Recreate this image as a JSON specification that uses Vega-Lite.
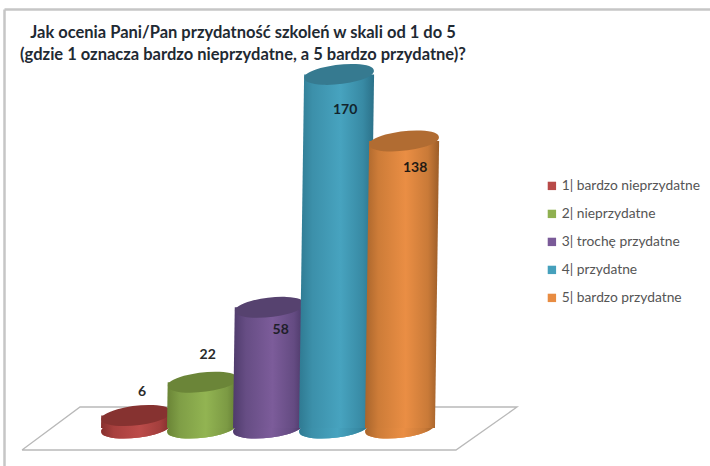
{
  "$schema": "https://vega.github.io/schema/vega-lite/v6.json",
  "width": 706,
  "height": 457,
  "padding": {"left": 4, "top": 9, "right": 0, "bottom": 0},
  "autosize": "none",
  "background": "#ffffff",
  "view": {"stroke": null},
  "config": {"font": "Lato", "style": {"cell": {"stroke": null}}},
  "title": {
    "text": ["Jak ocenia Pani/Pan przydatność szkoleń w skali od 1 do 5", "(gdzie 1 oznacza bardzo nieprzydatne, a 5 bardzo przydatne)?"],
    "anchor": "start",
    "frame": "group",
    "align": "center",
    "baseline": "top",
    "dx": 239,
    "dy": 54,
    "offset": 0,
    "font": "Lato",
    "fontSize": 16.5,
    "fontWeight": 700,
    "lineHeight": 22,
    "color": "#1f2a33"
  },
  "data": {
    "values": [
      {"ocena": 1, "etykieta": "1| bardzo nieprzydatne", "wartosc": 6},
      {"ocena": 2, "etykieta": "2| nieprzydatne", "wartosc": 22},
      {"ocena": 3, "etykieta": "3| trochę przydatne", "wartosc": 58},
      {"ocena": 4, "etykieta": "4| przydatne", "wartosc": 170},
      {"ocena": 5, "etykieta": "5| bardzo przydatne", "wartosc": 138}
    ]
  },
  "transform": [
    {"calculate": "[0, datum.wartosc]", "as": "poziomy"},
    {"flatten": ["poziomy"], "as": ["level"]},
    {"calculate": "datum.ocena + 0.000455 * datum.level", "as": "xPos"}
  ],
  "encoding": {
    "x": {
      "field": "xPos",
      "type": "quantitative",
      "scale": {"domain": [-1, 9.697], "nice": false, "zero": false},
      "axis": {"orient": "top", "title": null, "labels": false, "ticks": false, "grid": false, "domain": true, "domainColor": "#c6c6c6", "domainWidth": 2.5}
    },
    "y": {
      "field": "level",
      "type": "quantitative",
      "scale": {"domain": [-18.27, 201.44], "nice": false, "zero": false},
      "axis": {"orient": "left", "title": null, "labels": false, "ticks": false, "grid": false, "domain": true, "domainColor": "#c6c6c6", "domainWidth": 2.5}
    }
  },
  "layer": [
    {
      "data": {
        "values": [
          {"naroznik": 1, "xPos": -0.727, "level": -10.58},
          {"naroznik": 2, "xPos": 5.848, "level": -10.58},
          {"naroznik": 3, "xPos": 6.773, "level": 10.1},
          {"naroznik": 4, "xPos": 0.152, "level": 10.1},
          {"naroznik": 5, "xPos": -0.727, "level": -10.58}
        ]
      },
      "mark": {"type": "line", "color": "#b9b9b9", "strokeWidth": 1.3},
      "encoding": {"order": {"field": "naroznik", "type": "quantitative"}}
    },
    {
      "transform": [{"filter": "datum.level == 0"}],
      "mark": {"type": "point", "filled": true, "opacity": 1, "size": 4900, "shape": "M-0.993,0.113 A1,0.27 -6.5 1 1 0.993,-0.113 A1,0.27 -6.5 1 1 -0.993,0.113 Z"},
      "encoding": {
        "fill": {
          "field": "etykieta",
          "type": "nominal",
          "scale": {
            "domain": ["1| bardzo nieprzydatne", "2| nieprzydatne", "3| trochę przydatne", "4| przydatne", "5| bardzo przydatne"],
            "range": ["#b84a48", "#8fb050", "#7a5a98", "#45a0bc", "#e88c42"]
          },
          "legend": {
            "orient": "none",
            "legendX": 541,
            "legendY": 170,
            "title": null,
            "symbolType": "square",
            "symbolSize": 70,
            "symbolStrokeWidth": 0,
            "labelFont": "Lato",
            "labelFontSize": 13.8,
            "labelColor": "#555555",
            "rowPadding": 13,
            "labelOffset": 3
          }
        }
      }
    },
    {
      "transform": [{"filter": "datum.ocena == 1"}],
      "layer": [
        {
          "transform": [{"filter": "datum.level == 0"}],
          "mark": {"type": "point", "filled": true, "opacity": 1, "size": 4900, "shape": "M-0.993,0.113 A1,0.27 -6.5 1 1 0.993,-0.113 A1,0.27 -6.5 1 1 -0.993,0.113 Z", "fill": {"gradient": "linear", "x1": 0, "x2": 1, "y1": 0, "y2": 0, "stops": [{"offset": 0, "color": "#86302e"}, {"offset": 0.18, "color": "#a8403e"}, {"offset": 0.55, "color": "#bc4c4a"}, {"offset": 0.85, "color": "#a23e3c"}, {"offset": 1, "color": "#7e2d2b"}]}}
        },
        {
          "transform": [{"calculate": "datum.xPos + 0.53", "as": "xPrawy"}, {"calculate": "datum.xPos - 0.53", "as": "xPos"}],
          "mark": {"type": "area", "orient": "horizontal", "fill": {"gradient": "linear", "x1": 0, "x2": 1, "y1": 0, "y2": 0, "stops": [{"offset": 0, "color": "#86302e"}, {"offset": 0.18, "color": "#a8403e"}, {"offset": 0.55, "color": "#bc4c4a"}, {"offset": 0.85, "color": "#a23e3c"}, {"offset": 1, "color": "#7e2d2b"}]}},
          "encoding": {"x2": {"field": "xPrawy"}}
        },
        {
          "transform": [{"filter": "datum.level > 0"}],
          "mark": {"type": "point", "filled": true, "opacity": 1, "size": 4900, "fill": "#863230", "shape": "M-0.993,0.113 A1,0.27 -6.5 1 1 0.993,-0.113 A1,0.27 -6.5 1 1 -0.993,0.113 Z"}
        },
        {
          "transform": [{"filter": "datum.level > 0"}],
          "mark": {"type": "text", "font": "Lato", "fontSize": 14, "fontWeight": 700, "color": "#2a2a2a", "dx": 6, "dy": -24},
          "encoding": {"text": {"field": "wartosc", "type": "quantitative"}}
        }
      ]
    },
    {
      "transform": [{"filter": "datum.ocena == 2"}],
      "layer": [
        {
          "transform": [{"filter": "datum.level == 0"}],
          "mark": {"type": "point", "filled": true, "opacity": 1, "size": 4900, "shape": "M-0.993,0.113 A1,0.27 -6.5 1 1 0.993,-0.113 A1,0.27 -6.5 1 1 -0.993,0.113 Z", "fill": {"gradient": "linear", "x1": 0, "x2": 1, "y1": 0, "y2": 0, "stops": [{"offset": 0, "color": "#6a8436"}, {"offset": 0.18, "color": "#7f9e46"}, {"offset": 0.55, "color": "#92b452"}, {"offset": 0.85, "color": "#7c9a44"}, {"offset": 1, "color": "#627c32"}]}}
        },
        {
          "transform": [{"calculate": "datum.xPos + 0.53", "as": "xPrawy"}, {"calculate": "datum.xPos - 0.53", "as": "xPos"}],
          "mark": {"type": "area", "orient": "horizontal", "fill": {"gradient": "linear", "x1": 0, "x2": 1, "y1": 0, "y2": 0, "stops": [{"offset": 0, "color": "#6a8436"}, {"offset": 0.18, "color": "#7f9e46"}, {"offset": 0.55, "color": "#92b452"}, {"offset": 0.85, "color": "#7c9a44"}, {"offset": 1, "color": "#627c32"}]}},
          "encoding": {"x2": {"field": "xPrawy"}}
        },
        {
          "transform": [{"filter": "datum.level > 0"}],
          "mark": {"type": "point", "filled": true, "opacity": 1, "size": 4900, "fill": "#6b8538", "shape": "M-0.993,0.113 A1,0.27 -6.5 1 1 0.993,-0.113 A1,0.27 -6.5 1 1 -0.993,0.113 Z"}
        },
        {
          "transform": [{"filter": "datum.level > 0"}],
          "mark": {"type": "text", "font": "Lato", "fontSize": 14, "fontWeight": 700, "color": "#2a2a2a", "dx": 5, "dy": -27},
          "encoding": {"text": {"field": "wartosc", "type": "quantitative"}}
        }
      ]
    },
    {
      "transform": [{"filter": "datum.ocena == 3"}],
      "layer": [
        {
          "transform": [{"filter": "datum.level == 0"}],
          "mark": {"type": "point", "filled": true, "opacity": 1, "size": 4900, "shape": "M-0.993,0.113 A1,0.27 -6.5 1 1 0.993,-0.113 A1,0.27 -6.5 1 1 -0.993,0.113 Z", "fill": {"gradient": "linear", "x1": 0, "x2": 1, "y1": 0, "y2": 0, "stops": [{"offset": 0, "color": "#4f3b6c"}, {"offset": 0.18, "color": "#664d84"}, {"offset": 0.55, "color": "#7c5c9a"}, {"offset": 0.85, "color": "#644b82"}, {"offset": 1, "color": "#493665"}]}}
        },
        {
          "transform": [{"calculate": "datum.xPos + 0.53", "as": "xPrawy"}, {"calculate": "datum.xPos - 0.53", "as": "xPos"}],
          "mark": {"type": "area", "orient": "horizontal", "fill": {"gradient": "linear", "x1": 0, "x2": 1, "y1": 0, "y2": 0, "stops": [{"offset": 0, "color": "#4f3b6c"}, {"offset": 0.18, "color": "#664d84"}, {"offset": 0.55, "color": "#7c5c9a"}, {"offset": 0.85, "color": "#644b82"}, {"offset": 1, "color": "#493665"}]}},
          "encoding": {"x2": {"field": "xPrawy"}}
        },
        {
          "transform": [{"filter": "datum.level > 0"}],
          "mark": {"type": "point", "filled": true, "opacity": 1, "size": 4900, "fill": "#56426f", "shape": "M-0.993,0.113 A1,0.27 -6.5 1 1 0.993,-0.113 A1,0.27 -6.5 1 1 -0.993,0.113 Z"}
        },
        {
          "transform": [{"filter": "datum.level > 0"}],
          "mark": {"type": "text", "font": "Lato", "fontSize": 14, "fontWeight": 700, "color": "#1f1f2a", "dx": 11, "dy": 23},
          "encoding": {"text": {"field": "wartosc", "type": "quantitative"}}
        }
      ]
    },
    {
      "transform": [{"filter": "datum.ocena == 4"}],
      "layer": [
        {
          "transform": [{"filter": "datum.level == 0"}],
          "mark": {"type": "point", "filled": true, "opacity": 1, "size": 4900, "shape": "M-0.993,0.113 A1,0.27 -6.5 1 1 0.993,-0.113 A1,0.27 -6.5 1 1 -0.993,0.113 Z", "fill": {"gradient": "linear", "x1": 0, "x2": 1, "y1": 0, "y2": 0, "stops": [{"offset": 0, "color": "#2f7a92"}, {"offset": 0.18, "color": "#3c90aa"}, {"offset": 0.55, "color": "#47a3bf"}, {"offset": 0.85, "color": "#388aa4"}, {"offset": 1, "color": "#2b7189"}]}}
        },
        {
          "transform": [{"calculate": "datum.xPos + 0.53", "as": "xPrawy"}, {"calculate": "datum.xPos - 0.53", "as": "xPos"}],
          "mark": {"type": "area", "orient": "horizontal", "fill": {"gradient": "linear", "x1": 0, "x2": 1, "y1": 0, "y2": 0, "stops": [{"offset": 0, "color": "#2f7a92"}, {"offset": 0.18, "color": "#3c90aa"}, {"offset": 0.55, "color": "#47a3bf"}, {"offset": 0.85, "color": "#388aa4"}, {"offset": 1, "color": "#2b7189"}]}},
          "encoding": {"x2": {"field": "xPrawy"}}
        },
        {
          "transform": [{"filter": "datum.level > 0"}],
          "mark": {"type": "point", "filled": true, "opacity": 1, "size": 4900, "fill": "#367a90", "shape": "M-0.993,0.113 A1,0.27 -6.5 1 1 0.993,-0.113 A1,0.27 -6.5 1 1 -0.993,0.113 Z"}
        },
        {
          "transform": [{"filter": "datum.level > 0"}],
          "mark": {"type": "text", "font": "Lato", "fontSize": 14, "fontWeight": 700, "color": "#12242c", "dx": 6, "dy": 36},
          "encoding": {"text": {"field": "wartosc", "type": "quantitative"}}
        }
      ]
    },
    {
      "transform": [{"filter": "datum.ocena == 5"}],
      "layer": [
        {
          "transform": [{"filter": "datum.level == 0"}],
          "mark": {"type": "point", "filled": true, "opacity": 1, "size": 4900, "shape": "M-0.993,0.113 A1,0.27 -6.5 1 1 0.993,-0.113 A1,0.27 -6.5 1 1 -0.993,0.113 Z", "fill": {"gradient": "linear", "x1": 0, "x2": 1, "y1": 0, "y2": 0, "stops": [{"offset": 0, "color": "#a9652c"}, {"offset": 0.18, "color": "#cd7c38"}, {"offset": 0.55, "color": "#ea8e44"}, {"offset": 0.85, "color": "#c97a38"}, {"offset": 1, "color": "#9c5d28"}]}}
        },
        {
          "transform": [{"calculate": "datum.xPos + 0.53", "as": "xPrawy"}, {"calculate": "datum.xPos - 0.53", "as": "xPos"}],
          "mark": {"type": "area", "orient": "horizontal", "fill": {"gradient": "linear", "x1": 0, "x2": 1, "y1": 0, "y2": 0, "stops": [{"offset": 0, "color": "#a9652c"}, {"offset": 0.18, "color": "#cd7c38"}, {"offset": 0.55, "color": "#ea8e44"}, {"offset": 0.85, "color": "#c97a38"}, {"offset": 1, "color": "#9c5d28"}]}},
          "encoding": {"x2": {"field": "xPrawy"}}
        },
        {
          "transform": [{"filter": "datum.level > 0"}],
          "mark": {"type": "point", "filled": true, "opacity": 1, "size": 4900, "fill": "#b16c32", "shape": "M-0.993,0.113 A1,0.27 -6.5 1 1 0.993,-0.113 A1,0.27 -6.5 1 1 -0.993,0.113 Z"}
        },
        {
          "transform": [{"filter": "datum.level > 0"}],
          "mark": {"type": "text", "font": "Lato", "fontSize": 14, "fontWeight": 700, "color": "#1f1a14", "dx": 11, "dy": 27},
          "encoding": {"text": {"field": "wartosc", "type": "quantitative"}}
        }
      ]
    }
  ]
}
